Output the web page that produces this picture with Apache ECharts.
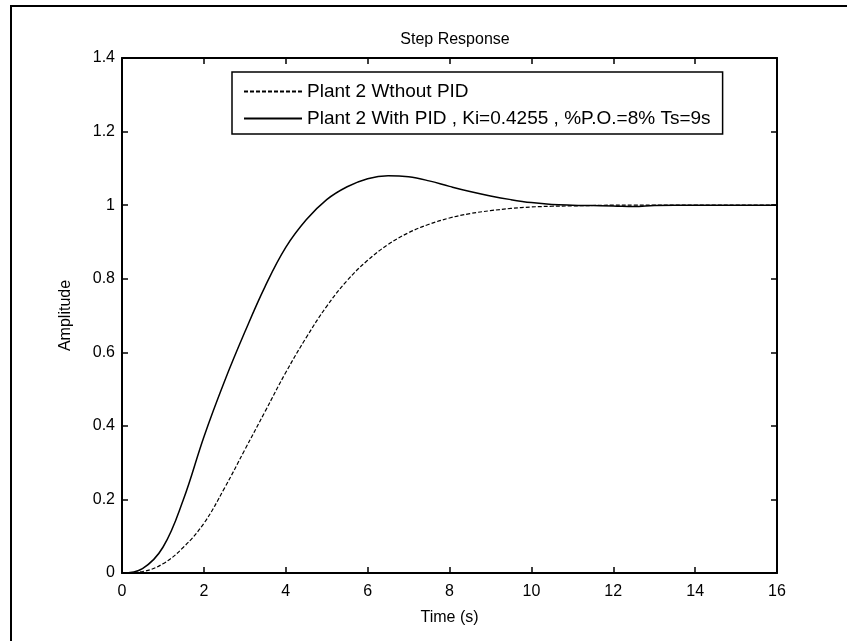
<!DOCTYPE html>
<html>
<head>
<meta charset="utf-8">
<script src="https://cdn.jsdelivr.net/npm/echarts@6/dist/echarts.min.js"></script>
<style>
html,body{margin:0;padding:0;background:#fff;}
#chart{width:847px;height:641px;}
</style>
</head>
<body>
<div id="chart"></div>
<script>
// Data
var timeS = [0,0.5,1,1.5,2,2.5,3,3.5,4,4.5,5,5.5,6,6.5,7,7.5,8,8.5,9,9.5,10,10.5,11,11.5,12,12.5,13,13.5,14,14.5,15,15.5,16];
var withoutPid = [0,0.004,0.025,0.07,0.135,0.23,0.335,0.44,0.545,0.64,0.725,0.795,0.85,0.893,0.925,0.948,0.965,0.977,0.985,0.991,0.995,0.997,0.998,0.999,1.0,1.0,1.0,1.0,1.0,1.0,1.0,1.0,1.0];
var withPid = [0,0.012,0.07,0.2,0.37,0.52,0.655,0.78,0.885,0.96,1.015,1.05,1.072,1.08,1.077,1.066,1.051,1.037,1.025,1.015,1.007,1.002,1.0,0.999,0.998,0.996,0.999,1.0,1.0,1.0,1.0,1.0,1.0];
var seriesNames = ['Plant 2 Wthout PID', 'Plant 2 With PID , Ki=0.4255 , %P.O.=8% Ts=9s'];
var titleText = 'Step Response';
var xName = 'Time (s)';
var yName = 'Amplitude';

function pairs(xs, ys){ return xs.map(function(x,i){ return [x, ys[i]]; }); }

var FONT = 'Liberation Sans, Arial, sans-serif';
var chart = echarts.init(document.getElementById('chart'), null, {renderer:'canvas'});
var axisCommon = {
  type:'value',
  axisLine:{show:true, onZero:false, lineStyle:{color:'#000', width:2}},
  axisTick:{show:true, inside:true, length:6, lineStyle:{color:'#000', width:1.5}},
  splitLine:{show:false}
};
chart.setOption({
  animation:false,
  backgroundColor:'#fff',
  textStyle:{fontFamily:FONT, color:'#000'},
  title:{text:titleText, left:450, textAlign:'center', top:27,
    textStyle:{fontFamily:FONT, fontSize:16, fontWeight:'normal', color:'#000'}},
  grid:{left:122, right:70, top:58, bottom:68, containLabel:false},
  legend:{
    orient:'vertical', left:232, top:72,
    data:seriesNames,
    itemWidth:58, itemHeight:14, itemGap:8,
    padding:[10,12,6,11],
    borderColor:'#000', borderWidth:1.5, borderRadius:0,
    backgroundColor:'#fff',
    itemStyle:{opacity:0},
    textStyle:{fontFamily:FONT, fontSize:19, color:'#000'},
    selectedMode:false
  },
  xAxis:[
    Object.assign({}, axisCommon, {position:'bottom', min:0, max:16, interval:2,
      name:xName, nameLocation:'middle', nameGap:37,
      nameTextStyle:{fontFamily:FONT, fontSize:16, color:'#000'},
      axisLabel:{show:true, margin:11, fontFamily:FONT, fontSize:16, color:'#000'}}),
    Object.assign({}, axisCommon, {position:'top', min:0, max:16, interval:2,
      axisLabel:{show:false}})
  ],
  yAxis:[
    Object.assign({}, axisCommon, {position:'left', min:0, max:1.4, interval:0.2,
      name:yName, nameLocation:'middle', nameGap:48,
      nameTextStyle:{fontFamily:FONT, fontSize:16, color:'#000'},
      axisLabel:{show:true, margin:7, fontFamily:FONT, fontSize:16, color:'#000'}}),
    Object.assign({}, axisCommon, {position:'right', min:0, max:1.4, interval:0.2,
      axisLabel:{show:false}})
  ],
  graphic:[
    {type:'line', shape:{x1:11, y1:6, x2:11, y2:641}, style:{stroke:'#000', lineWidth:2}},
    {type:'line', shape:{x1:10, y1:6, x2:847, y2:6}, style:{stroke:'#000', lineWidth:2}}
  ],
  series:[
    {name:seriesNames[0], type:'line', data:pairs(timeS, withoutPid), symbol:'none', smooth:0.4,
      lineStyle:{color:'#000', width:1.2, type:[4,2]}, itemStyle:{color:'#000'}},
    {name:seriesNames[1], type:'line', data:pairs(timeS, withPid), symbol:'none', smooth:0.4,
      lineStyle:{color:'#000', width:1.5, type:'solid'}, itemStyle:{color:'#000'}}
  ]
});
</script>
</body>
</html>
